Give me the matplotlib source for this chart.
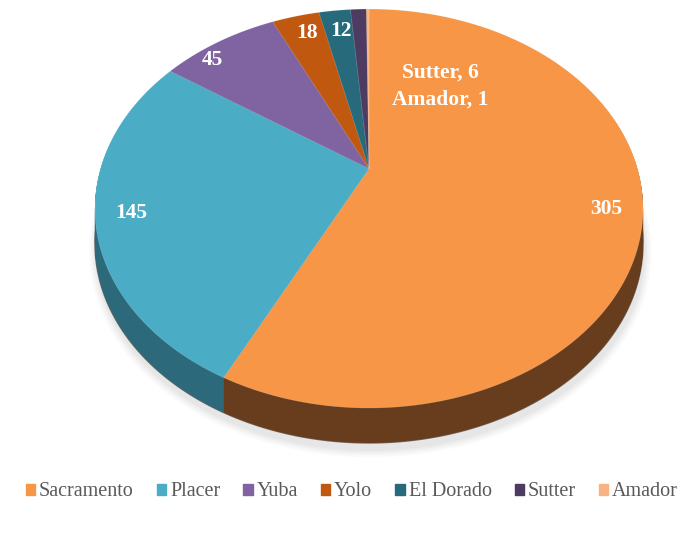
import numpy as np
import matplotlib.pyplot as plt
from matplotlib.patches import Ellipse
from matplotlib.path import Path
import matplotlib.transforms as mtransforms

# Landkreise und Werte
counties = ['Sacramento', 'Placer', 'Yuba', 'Yolo', 'El Dorado', 'Sutter', 'Amador']
values = [305, 145, 45, 18, 12, 6, 1]
labels = ['305', '145', '45', '18', '12', 'Sutter, 6', 'Amador, 1']

top_colors = ['#F79646', '#4BACC6', '#8064A2', '#C0580F', '#276A7C', '#4D3B62', '#F9B382']
side_colors = ['#673D1E', '#2C6A7B', '#4C3B62', '#6E330A', '#163F4A', '#2D233A', '#8F6A4E']

# Lage der Beschriftungen in Pixeln (x, y von oben)
label_px = [(606, 209), (131, 213), (212, 60), (307, 33), (341, 31), (440, 73), (440, 100)]

W, H = 687, 534
k = 0.2                  # Perspektive (hinten kleiner)
A, B = 268.5, 191.5      # Skalierung in Pixel
cx, cy = 369, 168.6      # Ursprung in Pixel
depth = 35 / B           # Höhe der Seitenwand
serif = ['Liberation Serif', 'DejaVu Serif']

plt.rcParams['font.family'] = serif
fig = plt.figure(figsize=(W / 100, H / 100), dpi=100)
ax = fig.add_axes([0, 0, 1, 1])


class Persp(mtransforms.Transform):
    input_dims = output_dims = 2
    is_separable = False

    def __init__(self, shift=0.0):
        super().__init__()
        self.shift = shift

    def transform_non_affine(self, xy):
        xy = np.asarray(xy, dtype=float)
        d = 1 + k * xy[:, 1]
        return np.column_stack([xy[:, 0] / d, xy[:, 1] / d - self.shift])

    def transform_path_non_affine(self, path):
        # Kurven fein abtasten, damit die Projektion glatt bleibt
        pts = [seg(np.linspace(0, 1, 40)) for seg, code in path.iter_bezier()]
        verts = np.concatenate(pts)
        return Path(self.transform_non_affine(verts), closed=True)


def persp_pie(colors, shift, **kw):
    wedges, _ = ax.pie(values, colors=colors, startangle=90, counterclock=False,
                       radius=1, frame=True, **kw)
    for w in wedges:
        w.set_transform(Persp(shift) + ax.transData)
    return wedges


# weicher Schatten
for j, a in enumerate([0.03, 0.04, 0.05, 0.06]):
    g = 1.025 - j * 0.007
    e = Ellipse((0.005, 0.0), 2 * g, 2 * g, facecolor='#7a7a7a', alpha=a,
                edgecolor='none', zorder=0)
    e.set_transform(Persp(depth + 0.035) + ax.transData)
    ax.add_patch(e)

# Seitenwand durch gestapelte Kreise
for d in np.linspace(depth, 0.004, 60):
    persp_pie(side_colors, d, wedgeprops=dict(linewidth=0))

# dunkle Kante unten
rim = Ellipse((0, 0), 2, 2, facecolor='none', edgecolor='#2a1a0c', linewidth=1.0,
              alpha=0.6, zorder=0.5)
rim.set_transform(Persp(depth) + ax.transData)
ax.add_patch(rim)

# Deckfläche
persp_pie(top_colors, 0.0, wedgeprops=dict(linewidth=0.4, edgecolor='#ffffff40'))

for lab, (px, py) in zip(labels, label_px):
    fig.text(px / W, 1 - py / H, lab, color='white', fontsize=15.5, fontweight='bold',
             ha='center', va='center', family=serif)

ax.set_aspect('auto')
ax.set_xlim(-cx / A, (W - cx) / A)
ax.set_ylim((cy - H) / B, cy / B)
ax.axis('off')

handles = [plt.Rectangle((0, 0), 1, 1, color=c) for c in top_colors]
leg = fig.legend(handles, counties, loc='center', bbox_to_anchor=(352 / W, 1 - 492 / H),
                 ncol=7, frameon=False, handlelength=0.45, handleheight=0.45,
                 handletextpad=0.2, columnspacing=1.15,
                 prop={'family': serif, 'size': 14.5})
for t in leg.get_texts():
    t.set_color('#595959')

fig.savefig('out.png', dpi=100)
